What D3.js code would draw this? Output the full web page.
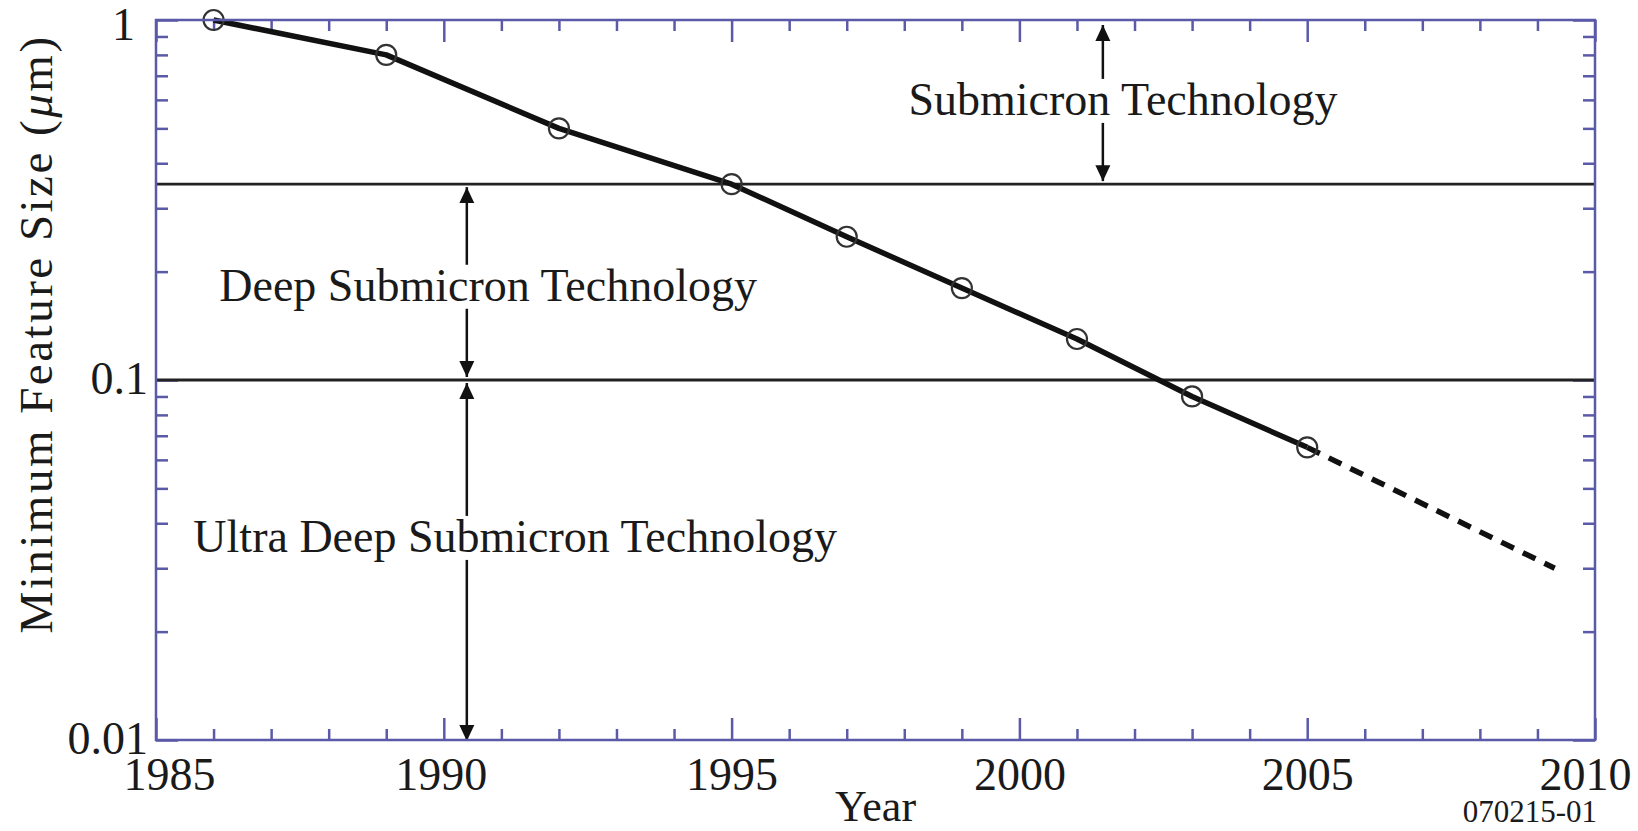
<!DOCTYPE html>
<html>
<head>
<meta charset="utf-8">
<script src="https://cdn.jsdelivr.net/npm/d3@7"></script>
<style>
  body { margin: 0; background: #fff; }
  text { font-family: "Liberation Serif", "Times New Roman", serif; fill: #1a1a1a; }
</style>
</head>
<body>
<svg id="chart" width="1638" height="831"></svg>
<script>
// measured points (year, minimum feature size in um)
const years = [1986, 1989, 1992, 1995, 1997, 1999, 2001, 2003, 2005];
const featureSize = [1.0, 0.8, 0.5, 0.35, 0.25, 0.18, 0.13, 0.09, 0.065];
// projected trend (dashed)
const projYears = [2005, 2009.3];
const projSize = [0.065, 0.03];

const boundaries = [0.35, 0.1];
const majorYears = [1985, 1990, 1995, 2000, 2005, 2010];
const minorYears = [1986, 1987, 1988, 1989, 1991, 1992, 1993, 1994, 1996, 1997, 1998, 1999,
                    2001, 2002, 2003, 2004, 2006, 2007, 2008, 2009];
const majorSizes = [0.01, 0.1, 1];
const minorSizes = [0.02, 0.03, 0.04, 0.05, 0.06, 0.07, 0.08, 0.09,
                    0.2, 0.3, 0.4, 0.5, 0.6, 0.7, 0.8, 0.9];

// region annotations
const regionLabels = ["Submicron Technology", "Deep Submicron Technology", "Ultra Deep Submicron Technology"];
const labelYear = [2001.8, 1990.77, 1991.24];
const labelSize = [0.545, 0.166, 0.0333];
const arrowYear = [2001.45, 1990.4, 1990.4];
const arrowTop = [1, 0.35, 0.1];
const arrowBottom = [0.35, 0.1, 0.01];

const frameColor = "#5a5aa8";
const svg = d3.select("#chart");

const x = d3.scaleLinear().domain([1985, 2010]).range([156, 1595]);
const y = d3.scaleLog().domain([0.01, 1]).range([740, 20]);

function tickAxis(axisFn, scale, values, size, pos) {
    let g = svg.append("g")
        .attr("transform", pos)
        .call(axisFn(scale).tickValues(values).tickSize(-size).tickFormat(""));
    g.select(".domain").remove();
    g.selectAll("line").attr("stroke", frameColor).attr("stroke-width", 2.5);
    return g;
}

// inward ticks on all four sides
tickAxis(d3.axisBottom, x, majorYears, 22, "translate(0,740)");
tickAxis(d3.axisBottom, x, minorYears, 11, "translate(0,740)");
tickAxis(d3.axisTop, x, majorYears, 22, "translate(0,20)");
tickAxis(d3.axisTop, x, minorYears, 11, "translate(0,20)");
tickAxis(d3.axisLeft, y, majorSizes, 22, "translate(156,0)");
tickAxis(d3.axisLeft, y, minorSizes, 12, "translate(156,0)");
tickAxis(d3.axisRight, y, majorSizes, 22, "translate(1595,0)");
tickAxis(d3.axisRight, y, minorSizes, 12, "translate(1595,0)");

// tick labels
let xLabels = svg.append("g")
    .attr("transform", "translate(0,740)")
    .call(d3.axisBottom(x).tickValues(majorYears).tickSize(0).tickFormat(d3.format("d")));
xLabels.select(".domain").remove();
xLabels.selectAll("text")
    .attr("y", 50).attr("dy", 0)
    .attr("font-size", 46)
    .attr("fill", "#1a1a1a")
    .attr("font-family", "Liberation Serif")
    .attr("dx", d => d === 1985 ? 13 : d === 2010 ? -10 : d === 1990 ? -3 : 0);

let yLabels = svg.append("g")
    .attr("transform", "translate(156,0)")
    .call(d3.axisLeft(y).tickValues(majorSizes).tickSize(0).tickPadding(8).tickFormat(d => String(d)));
yLabels.select(".domain").remove();
yLabels.selectAll("text")
    .attr("font-size", 46)
    .attr("fill", "#1a1a1a")
    .attr("font-family", "Liberation Serif")
    .attr("dx", d => d === 1 ? -13 : 0)
    .attr("dy", d => d === 1 ? "0.43em" : "0.3em");

// technology boundaries
svg.append("g").selectAll("line")
    .data(boundaries)
    .join("line")
    .attr("x1", x(1985)).attr("x2", x(2010))
    .attr("y1", d => y(d)).attr("y2", d => y(d))
    .attr("stroke", "#222")
    .attr("stroke-width", 2.8);

// arrows
svg.append("defs").append("marker")
    .attr("id", "head")
    .attr("viewBox", "0 -8 16 16")
    .attr("refX", 16).attr("refY", 0)
    .attr("markerUnits", "userSpaceOnUse")
    .attr("markerWidth", 16).attr("markerHeight", 16)
    .attr("orient", "auto-start-reverse")
    .append("path")
    .attr("d", "M0,-7.5L16,0L0,7.5Z")
    .attr("fill", "#111");

svg.append("g").selectAll("line")
    .data(arrowYear)
    .join("line")
    .attr("x1", d => x(d)).attr("x2", d => x(d))
    .attr("y1", (d, i) => y(arrowTop[i]) + (i === 0 ? 5 : 3))
    .attr("y2", (d, i) => y(arrowBottom[i]) - (i === 2 ? -1 : 3))
    .attr("stroke", "#111")
    .attr("stroke-width", 2.5)
    .attr("marker-start", "url(#head)")
    .attr("marker-end", "url(#head)");

// labels on white boxes breaking the arrows
regionLabels.forEach((label, i) => {
    let g = svg.append("g");
    let rect = g.append("rect").attr("fill", "#fff");
    let t = g.append("text")
        .attr("x", x(labelYear[i]))
        .attr("y", y(labelSize[i]))
        .attr("text-anchor", "middle")
        .attr("font-size", 46)
        .text(label);
    let b = t.node().getBBox();
    rect.attr("x", b.x - 4).attr("y", b.y + 5)
        .attr("width", b.width + 8).attr("height", b.height - 7);
});

// trend lines
const line = d3.line().x(d => x(d[0])).y(d => y(d[1]));

svg.append("path")
    .datum(d3.zip(projYears, projSize))
    .attr("d", line)
    .attr("fill", "none")
    .attr("stroke", "#111")
    .attr("stroke-width", 5.5)
    .attr("stroke-dasharray", "14,10");

svg.append("path")
    .datum(d3.zip(years, featureSize))
    .attr("d", line)
    .attr("fill", "none")
    .attr("stroke", "#111")
    .attr("stroke-width", 5.5)
    .attr("stroke-linejoin", "round");

svg.append("g").selectAll("circle")
    .data(d3.zip(years, featureSize))
    .join("circle")
    .attr("cx", d => x(d[0]))
    .attr("cy", d => y(d[1]))
    .attr("r", 10)
    .attr("fill", "none")
    .attr("stroke", "#333")
    .attr("stroke-width", 2.2);

// frame
svg.append("rect")
    .attr("x", x(1985)).attr("y", y(1))
    .attr("width", x(2010) - x(1985))
    .attr("height", y(0.01) - y(1))
    .attr("fill", "none")
    .attr("stroke", frameColor)
    .attr("stroke-width", 2.5);

// axis titles
svg.append("text")
    .attr("x", (x(1985) + x(2010)) / 2)
    .attr("y", 821)
    .attr("text-anchor", "middle")
    .attr("font-size", 44)
    .text("Year");

let yt = svg.append("text")
    .attr("transform", "rotate(-90)")
    .attr("x", -334)
    .attr("y", 52)
    .attr("text-anchor", "middle")
    .attr("font-size", 47)
    .attr("letter-spacing", 2.5);
yt.append("tspan").text("Minimum Feature Size (");
yt.append("tspan").attr("font-style", "italic").text("\u03bc");
yt.append("tspan").text("m)");

svg.append("text")
    .attr("x", 1597)
    .attr("y", 822)
    .attr("text-anchor", "end")
    .attr("font-size", 31)
    .text("070215-01");
</script>
</body>
</html>
